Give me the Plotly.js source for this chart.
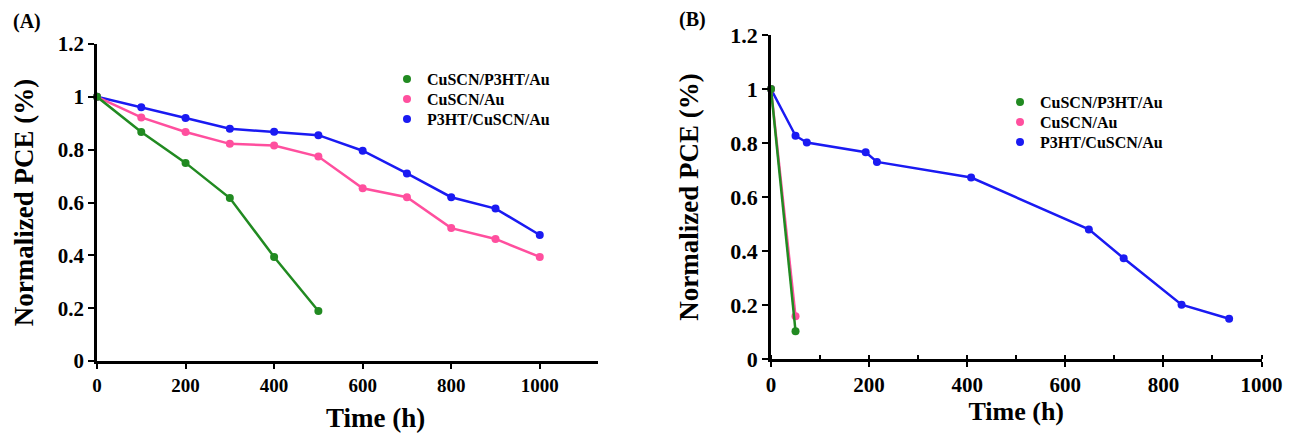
<!DOCTYPE html>
<html>
<head>
<meta charset="utf-8">
<script src="https://cdn.plot.ly/plotly-3.0.1.min.js"></script>
<style>
html,body{margin:0;padding:0;background:#fff;}
#chart{width:1293px;height:437px;}
</style>
</head>
<body>
<div id="chart"></div>
<script>
// ---------- Data ----------
// Panel (A)
const timeA = [0, 100, 200, 300, 400, 500, 600, 700, 800, 900, 1000];
const timeAGreen = [0, 100, 200, 300, 400, 500];
const greenA = [1.0, 0.867, 0.750, 0.617, 0.394, 0.189];
const pinkA  = [1.0, 0.922, 0.867, 0.822, 0.816, 0.774, 0.654, 0.620, 0.503, 0.462, 0.394];
const blueA  = [1.0, 0.961, 0.920, 0.879, 0.868, 0.855, 0.796, 0.710, 0.620, 0.577, 0.477];

// Panel (B)
const timeBGreen = [0, 50];
const greenB = [1.0, 0.103];
const timeBPink = [0, 50];
const pinkB = [1.0, 0.158];
const timeBBlue = [0, 50, 73, 193, 216, 408, 648, 719, 837, 934];
const blueB = [1.0, 0.827, 0.802, 0.766, 0.730, 0.672, 0.480, 0.373, 0.201, 0.149];

const seriesNames = ["CuSCN/P3HT/Au", "CuSCN/Au", "P3HT/CuSCN/Au"];
const yTicks = [0, 0.2, 0.4, 0.6, 0.8, 1.0, 1.2];
const xTicks = [0, 200, 400, 600, 800, 1000];

// ---------- Styles ----------
const GREEN = "#218a21";
const PINK = "#ff4f9e";
const BLUE = "#1a1af2";
const FONT = "Liberation Serif";
const COLORS = [GREEN, PINK, BLUE];

function lineTrace(x, y, color, xa, ya) {
  return {
    x: x, y: y, xaxis: xa, yaxis: ya,
    type: "scatter", mode: "lines+markers",
    line: {color: color, width: 2.5},
    marker: {color: color, size: 8},
    cliponaxis: false, showlegend: false, hoverinfo: "x+y"
  };
}
function legendTrace(name, color, legend, xa, ya) {
  return {
    x: [null], y: [null], type: "scatter", mode: "markers",
    name: name, marker: {color: color, size: 8},
    legend: legend, showlegend: true, xaxis: xa, yaxis: ya
  };
}

const traces = [
  lineTrace(timeA, blueA, BLUE, "x", "y"),
  lineTrace(timeA, pinkA, PINK, "x", "y"),
  lineTrace(timeAGreen, greenA, GREEN, "x", "y"),
  lineTrace(timeBBlue, blueB, BLUE, "x2", "y2"),
  lineTrace(timeBPink, pinkB, PINK, "x2", "y2"),
  lineTrace(timeBGreen, greenB, GREEN, "x2", "y2")
];
const legendIds = ["legend", "legend2", "legend3", "legend4", "legend5", "legend6"];
seriesNames.forEach((n, i) => {
  traces.push(legendTrace(n, COLORS[i], legendIds[i], "x", "y"));
});
seriesNames.forEach((n, i) => {
  traces.push(legendTrace(n, COLORS[i], legendIds[i + 3], "x2", "y2"));
});

const W = 1293, H = 437;
const px = v => v / W;
const py = v => (H - v) / H;

function xAxis(domain, range, size, extra) {
  return Object.assign({
    domain: domain, range: range, tickvals: xTicks,
    ticks: "outside", ticklen: 5, tickwidth: 2, tickcolor: "#000",
    showline: true, linewidth: 2.5, linecolor: "#000",
    showgrid: false, zeroline: false, fixedrange: true,
    tickfont: {family: FONT, size: size, weight: "bold", color: "#000"}
  }, extra || {});
}
function yAxis(domain, size, standoff) {
  return {
    domain: domain, range: [0, 1.2], tickvals: yTicks,
    ticks: "outside", ticklen: 6, tickwidth: 2, tickcolor: "#000",
    showline: true, linewidth: 2.5, linecolor: "#000",
    showgrid: false, zeroline: false, fixedrange: true,
    tickfont: {family: FONT, size: size, weight: "bold", color: "#000"},
    title: {text: "Normalized PCE (%)", standoff: standoff,
            font: {family: FONT, size: 27, weight: "bold", color: "#000"}}
  };
}
function legendBox(xLeft, top) {
  return {
    x: px(xLeft), y: py(top), xanchor: "left", yanchor: "top",
    bgcolor: "rgba(0,0,0,0)", borderwidth: 0,
    font: {family: FONT, size: 16, weight: "bold", color: "#000"},
    tracegroupgap: 0
  };
}

const layout = {
  width: W, height: H,
  margin: {l: 0, r: 0, t: 0, b: 0},
  paper_bgcolor: "#fff", plot_bgcolor: "#fff",
  xaxis: xAxis([px(97), px(598)], [0, 1131.5], 19),
  yaxis: yAxis([py(361), py(44)], 21, 17),
  xaxis2: xAxis([px(771), px(1261.5)], [0, 1000], 21, {
    anchor: "y2",
    title: {text: "Time (h)", standoff: 6,
            font: {family: FONT, size: 26, weight: "bold", color: "#000"}},
    minor: {dtick: 100, tick0: 0, ticks: "inside", ticklen: 4, tickwidth: 2, tickcolor: "#000"}
  }),
  yaxis2: Object.assign(yAxis([py(359), py(35)], 22, 24), {anchor: "x2"}),
  legend: legendBox(387, 62),
  legend2: legendBox(387, 82),
  legend3: legendBox(387, 102),
  legend4: legendBox(1000, 85),
  legend5: legendBox(1000, 105),
  legend6: legendBox(1000, 125),
  annotations: [
    {text: "(A)", x: px(27), y: py(22), xref: "paper", yref: "paper",
     xanchor: "center", yanchor: "middle", showarrow: false,
     font: {family: FONT, size: 20, weight: "bold", color: "#000"}},
    {text: "(B)", x: px(692), y: py(20), xref: "paper", yref: "paper",
     xanchor: "center", yanchor: "middle", showarrow: false,
     font: {family: FONT, size: 20, weight: "bold", color: "#000"}},
    {text: "Time (h)", x: px(375), y: py(418), xref: "paper", yref: "paper",
     xanchor: "center", yanchor: "middle", showarrow: false,
     font: {family: FONT, size: 27, weight: "bold", color: "#000"}}
  ]
};

Plotly.newPlot("chart", traces, layout, {displayModeBar: false, staticPlot: false});
</script>
</body>
</html>
